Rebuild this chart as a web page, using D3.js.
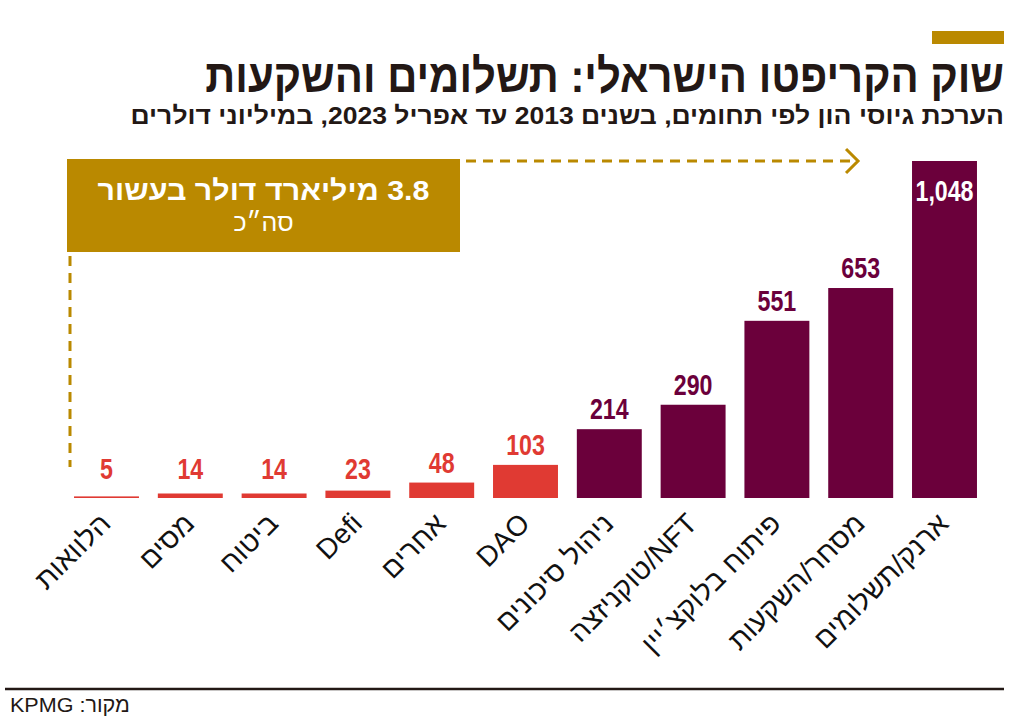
<!DOCTYPE html>
<html><head><meta charset="utf-8">
<script src="https://cdn.jsdelivr.net/npm/d3@7"></script>
<style>
html,body{margin:0;padding:0;background:#fff;}
svg{display:block;}
</style></head>
<body>
<svg id="chart" width="1024" height="726"></svg>
<script>
// ---- data ----
const categories = ["הלוואות","מסים","ביטוח","Defi","אחרים","DAO","ניהול סיכונים","NFT/טוקניזצה","פיתוח בלוקצ׳יין","מסחר/השקעות","ארנק/תשלומים"];
const values = [5,14,14,23,48,103,214,290,551,653,1048];
const groups = ["small","small","small","small","small","small","large","large","large","large","large"];
const titleText = "שוק הקריפטו הישראלי: תשלומים והשקעות";
const subtitleText = "הערכת גיוסי הון לפי תחומים, בשנים 2013 עד אפריל 2023, במיליוני דולרים";
const totalLine1 = "3.8 מיליארד דולר בעשור";
const totalLine2 = "סה״כ";
const sourceText = "מקור: KPMG";

// ---- style ----
const colors = {small:"#e03a33", large:"#6b003b"};
const gold = "#ba8900";
const ink = "#231815";
const numFont = "'Liberation Sans',Arial,sans-serif";
const hebFont = "'Liberation Sans','Open Sans','DejaVu Sans',sans-serif";

const svg = d3.select("#chart");
const baseY = 498;

const x = d3.scaleBand().domain(categories).range([64.6, 986.4]).paddingInner(0.225).paddingOuter(0.1125);
const y = d3.scaleLinear().domain([0, d3.max(values)]).range([baseY, 161]);

const data = categories.map((c,i)=>({cat:c, v:values[i], g:groups[i]}));

// fitted text: right-aligned at (xr, yb), horizontally scaled to given width
function fitted(xr, yb, width, txt, size, weight){
  const g = svg.append("g");
  const t = g.append("text").attr("x",0).attr("y",0)
    .attr("direction","rtl").attr("text-anchor","start")
    .attr("font-family",hebFont).attr("font-weight",weight).attr("font-size",size)
    .attr("fill",ink).text(txt);
  const w = t.node().getComputedTextLength();
  g.attr("transform",`translate(${xr},${yb}) scale(${width/w},1)`);
  return t;
}

// header
svg.append("rect").attr("x",932).attr("y",31).attr("width",72).attr("height",13).attr("fill",gold);
fitted(1004, 92, 799, titleText, 47, "bold");
fitted(1004, 124, 874, subtitleText, 24, "bold");

// bars
svg.append("g").selectAll("rect").data(data).join("rect")
  .attr("x",d=>x(d.cat)).attr("width",x.bandwidth())
  .attr("y",d=>y(d.v)).attr("height",d=>baseY - y(d.v))
  .attr("fill",d=>colors[d.g]);

// value labels
const maxV = d3.max(values);
const fmt = d3.format(",");
svg.append("g").selectAll("g").data(data).join("g")
  .attr("transform",d=>`translate(${x(d.cat)+x.bandwidth()/2},${d.v===maxV ? y(d.v)+40 : Math.min(y(d.v)-10, 479)}) scale(0.8,1)`)
  .append("text")
  .attr("text-anchor","middle")
  .attr("font-family",numFont).attr("font-weight","bold").attr("font-size",29)
  .attr("fill",d=> d.v===maxV ? "#fff" : colors[d.g])
  .text(d=>fmt(d.v));

// category labels
svg.append("g").selectAll("text").data(data).join("text")
  .attr("transform",d=>`translate(${x(d.cat)+x.bandwidth()/2+6},525) rotate(-45)`)
  .attr("direction","rtl").attr("text-anchor","start")
  .attr("font-family",hebFont).attr("font-size",28).attr("letter-spacing",0.3).attr("fill","#111")
  .text(d=>d.cat);

// total box
const boxX = 67, boxY = 159, boxW = 393, boxH = 93;
svg.append("rect").attr("x",boxX).attr("y",boxY).attr("width",boxW).attr("height",boxH).attr("fill",gold);
{
  const g = svg.append("g");
  const t = g.append("text").attr("text-anchor","middle").attr("direction","rtl")
    .attr("font-family",hebFont).attr("font-weight","bold").attr("font-size",28).attr("fill","#fff")
    .text(totalLine1);
  const w = t.node().getComputedTextLength();
  g.attr("transform",`translate(${boxX+boxW/2},200) scale(${332/w},1)`);
}
svg.append("text").attr("x",boxX+boxW/2).attr("y",231).attr("text-anchor","middle")
  .attr("direction","rtl")
  .attr("font-family",hebFont).attr("font-size",25).attr("fill","#fff")
  .text(totalLine2);

// dashed arrows
const lastX = x(categories[categories.length-1]);
const arrowY = y(maxV);
svg.append("line").attr("x1",boxX+boxW+6).attr("x2",lastX-56).attr("y1",arrowY).attr("y2",arrowY)
  .attr("stroke",gold).attr("stroke-width",3).attr("stroke-dasharray","10,7");
svg.append("polyline").attr("points",`${lastX-66},${arrowY-12} ${lastX-54},${arrowY} ${lastX-66},${arrowY+12}`)
  .attr("fill","none").attr("stroke",gold).attr("stroke-width",3);
svg.append("line").attr("x1",70).attr("x2",70).attr("y1",boxY+boxH+4).attr("y2",467)
  .attr("stroke",gold).attr("stroke-width",3).attr("stroke-dasharray","10,7");

// footer
svg.append("line").attr("x1",5).attr("x2",1004).attr("y1",689).attr("y2",689)
  .attr("stroke",ink).attr("stroke-width",2.5);
{
  const g = svg.append("g");
  const t = g.append("text").attr("direction","rtl").attr("text-anchor","end")
    .attr("font-family",numFont).attr("font-size",21).attr("fill",ink)
    .text(sourceText);
  const w = t.node().getComputedTextLength();
  g.attr("transform",`translate(10,712) scale(${120/w},1)`);
}
</script>
</body></html>
